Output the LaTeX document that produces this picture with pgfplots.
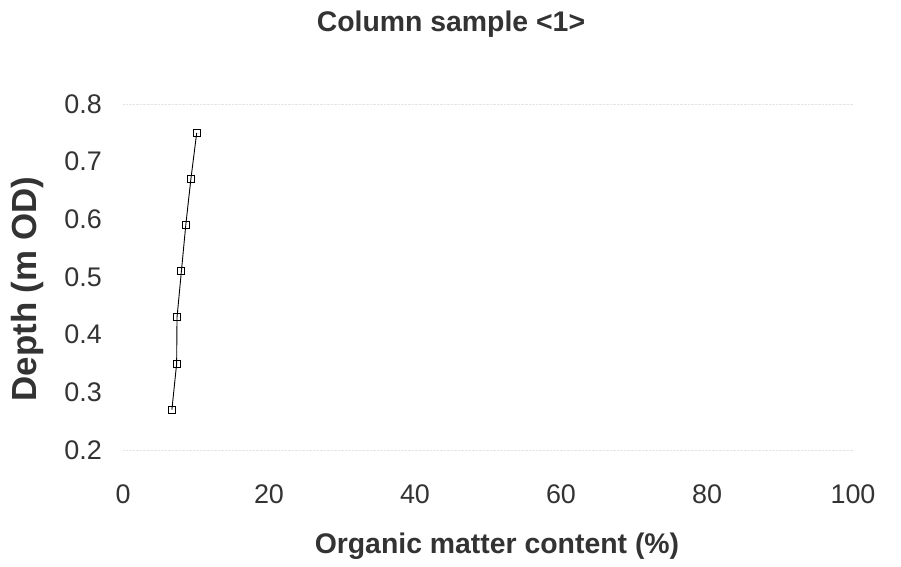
\documentclass[border=0pt]{standalone}
\usepackage{fontspec}
\setmainfont{Liberation Sans}
\usepackage{pgfplots}
\pgfplotsset{compat=1.18}
\begin{document}
\begin{tikzpicture}
\useasboundingbox (-123bp,-117bp) rectangle (778bp,450bp);
\begin{axis}[
  at={(0,0)}, anchor=south west,
  scale only axis, width=730bp, height=346bp,
  xmin=0, xmax=100, ymin=0.2, ymax=0.8,
  xtick={0,20,40,60,80,100},
  ytick={0.2,0.3,0.4,0.5,0.6,0.7,0.8},
  /pgf/number format/assume math mode=true,
  yticklabel style={/pgf/number format/fixed, /pgf/number format/fixed zerofill, /pgf/number format/precision=1},
  major tick length=0pt,
  separate axis lines,
  x axis line style={draw=black!10, densely dotted},
  y axis line style={draw=none},
  tick label style={font=\fontsize{27}{32}\selectfont, text=black!80, inner sep=0pt},
  xticklabel style={anchor=base, yshift=-53bp},
  yticklabel style={anchor=east, xshift=-21bp},
  title={Column sample <1>},
  title style={at={(axis description cs:0.4493,1)}, anchor=base, yshift=67bp, font=\bfseries\fontsize{28.5}{34}\selectfont, text=black!80, inner sep=0pt},
  xlabel={Organic matter content (\%)},
  xlabel style={at={(axis description cs:0.5123,0)}, anchor=base, yshift=-103bp, font=\bfseries\fontsize{28.5}{34}\selectfont, text=black!80, inner sep=0pt},
  ylabel={Depth (m OD)},
  ylabel style={at={(axis description cs:0,0.465)}, anchor=base, yshift=86bp, font=\bfseries\fontsize{35}{40}\selectfont, text=black!80, inner sep=0pt},
  clip=false,
]
\addplot[black, line width=0.9bp, mark=square, mark size=3.5bp, mark options={solid, line width=0.9bp, fill=white}]
  coordinates {
    (10.1,0.75) (9.3,0.67) (8.6,0.59) (8.0,0.51) (7.4,0.43) (7.35,0.35) (6.7,0.27)
  };
\end{axis}
\end{tikzpicture}
\end{document}
